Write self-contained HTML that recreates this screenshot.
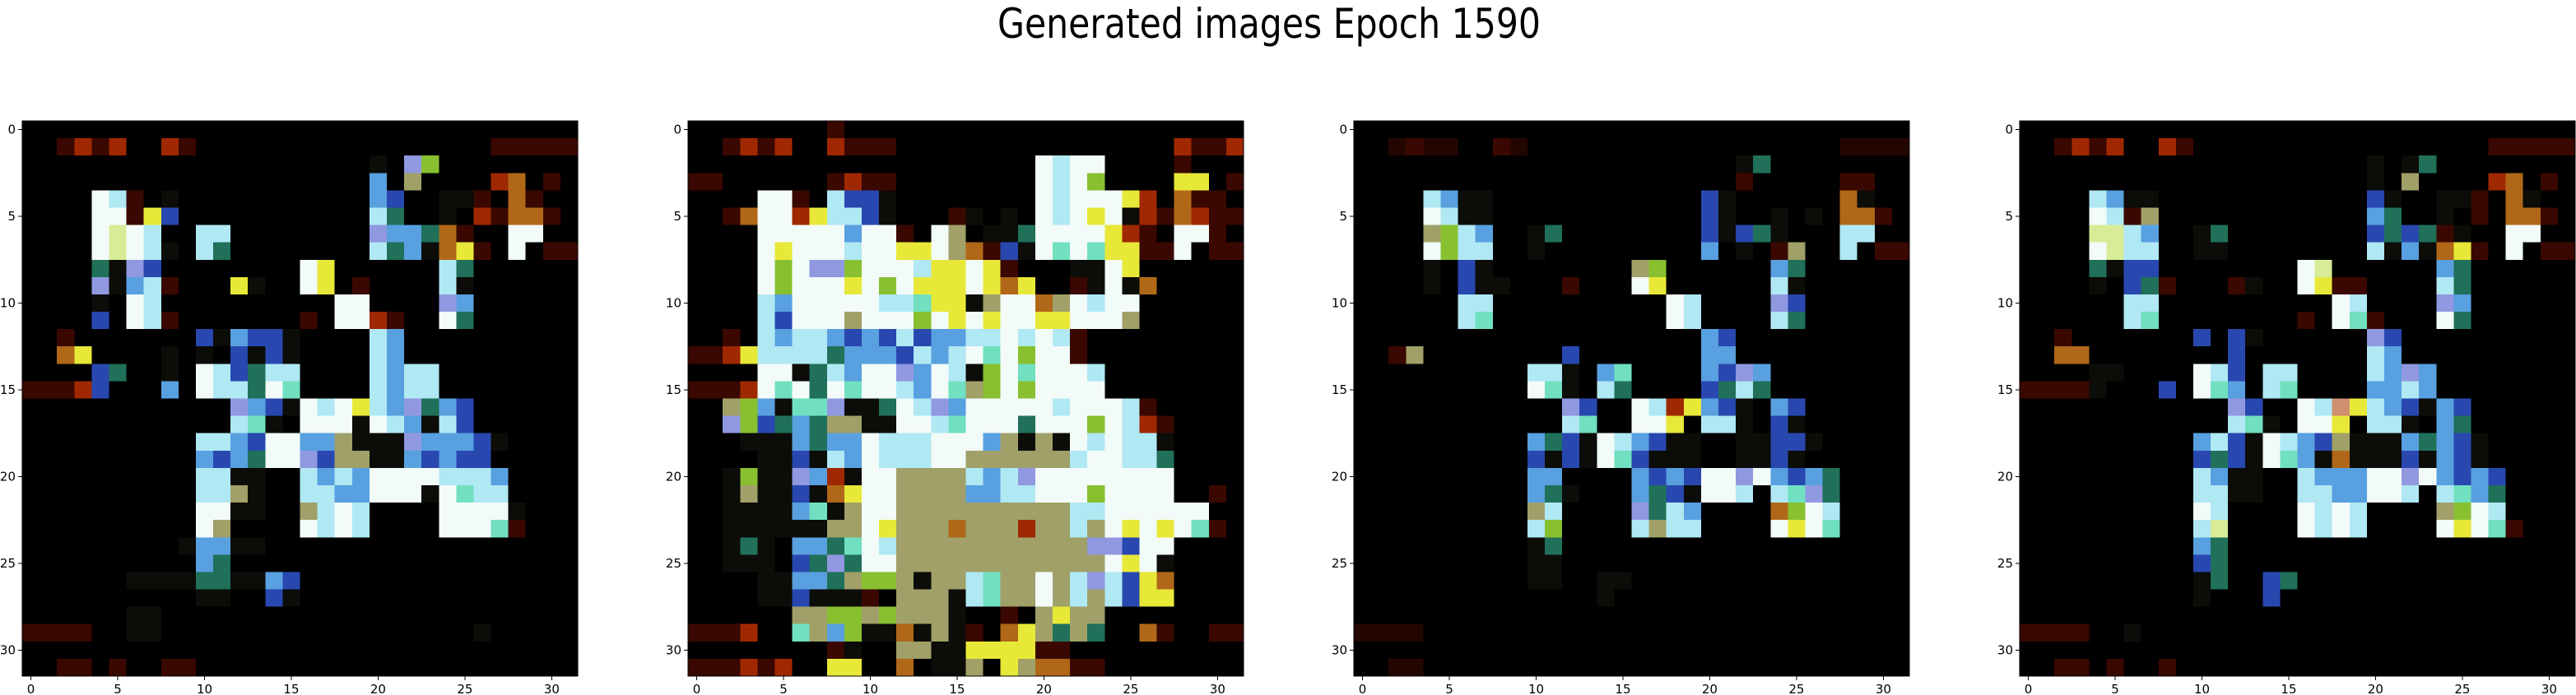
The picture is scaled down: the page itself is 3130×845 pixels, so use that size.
<!DOCTYPE html>
<html><head><meta charset="utf-8"><style>
html,body{margin:0;padding:0;background:#fff;}
svg{display:block;}
text{font-family:"DejaVu Sans","Liberation Sans",sans-serif;}
</style></head><body>
<svg id="fig" width="3130" height="845" viewBox="0 0 3130 845" xmlns="http://www.w3.org/2000/svg" shape-rendering="crispEdges">
<rect x="0" y="0" width="3130" height="845" fill="#fff"/>
<text x="1542" y="46" text-anchor="middle" font-size="50" textLength="660" lengthAdjust="spacingAndGlyphs" fill="#000">Generated images Epoch 1590</text>
</svg>
<script>
const tickValues = [0, 5, 10, 15, 20, 25, 30];
const tickLabels = ["0", "5", "10", "15", "20", "25", "30"];
const palette = {".":"#000000","q":"#240600","r":"#3a0800","R":"#a02800","o":"#b06818","y":"#e8e838","w":"#f2fbf8","c":"#b0e8f4","m":"#70e0c0","b":"#58a0e0","B":"#2848b0","g":"#20705a","G":"#88c030","l":"#a0a068","k":"#d8ec98","d":"#0c0c08","p":"#9098e0","s":"#d09070"};
const panel1Rows = [
"................................",
"..rRrR..Rr.................rrrrr",
"....................d.pG........",
"....................b.l....Ro.r.",
"....wcr.d...........bB..ddr.or..",
"....wwryB...........cg..d.Rroor.",
"....wkwc..cc........pbbgor..ww..",
"....wkwcd.cg........cgbdoyr.w.rr",
"....gdpB........wy......cg......",
"....pdbcr...yd..wy.r....cd......",
"....d.wc..........ww....pb......",
"....B.wcr.......r.wwRr..wg......",
"..r.......BdbBBd....cb..........",
"..oy....d.d.BdBd....cb..........",
"....Bg..d.wcBgcc....cbcc........",
"rrrRB...b.wccgwm....cbcc........",
"............pbBdwcwycbpgbB......",
"............cmd.wwwdwcbdcB......",
"..........ccbBwwbbldddpbbbBd....",
"..........bBbgwwpBllddbBbBB.....",
"..........ccdd..cbcbwwwwcccb....",
"..........ccld..ccbbwwwdwmcc....",
"..........wwdd..lcwc....wwwwd...",
"..........wl....wcwc....wwwmr...",
".........dbbdd..................",
"..........bg....................",
"......ddddggddbB................",
"..........dd..Bd................",
"......dd........................",
"rrrr..dd..................d.....",
"................................",
"..rr.r..rr......................"];
const panel2Rows = [
"........r.......................",
"..rRrR..Rrrr................RrrR",
"....................wcww....r...",
"rr......rRrr........wcwG....yy.r",
"....wwr.cBBd........wcwwwyR.orr.",
"..rowwRyccBd...rd.d.wcwywdRroRrr",
"....wwwwwbwwr.wl.ddgwwwwyRr.wwr.",
"....wywwwcwwyywlorBdwmwmyyrrw.rr",
"....wGwppGwwwcyywyr...ddwy......",
"....wGwwwywGwyyywyoy..rdwdo.....",
"....cbwwwwwccmyydlwwolwcww......",
"....cBwwwlwwwGwywywwyywwwl......",
"..r.cbccbBbBcBbbccwcwcr.........",
"rrRyccccgbbbBcbcwmwGwwr.........",
"....wwdgcbwwpbwcdGwmwwwc........",
"rrrRwmwgwmwwcbwmlGwGwwww........",
"..lGbdmmpddgwcpbwwwwwcwwwcr.....",
"..pGBgbglldd" + "wwcmwwwg" + "wwwGwcRr....",
"...dddbgbbwcccwwwbldldwcwccd....",
"....ddBdcbwcccwwllllllcwwccg....",
"..dGddpbRdwwllllcbcpwwwwwwww....",
"..dlddBdoywwllllbbccwwwGwwww..r.",
"..ddddbmdlwwllllllllllccwwwwww..",
"..ddddddllwylllolllRllclwywywmr.",
"..dgd.bbgmwclllllllllllppBww....",
"..ddd.Bgpgwwllllllllllllwywd....",
"....ddbbglGGldllcmllwlcpcByo....",
"....ddBdddr.llldcmllwlclcByy....",
"......llGGlGllld..r.lyll........",
"rrrR..mlbGddodldr.oylglg..or..rr",
"........rd..llddyyyyrr..........",
"rrrRrR..yy..o.ddl.yloorr........"];
const panel3Rows = [
"................................",
"..qrqq..rq..................qqqq",
"......................dg........",
"......................r.....rr..",
"....cbdd............Bd......od..",
"....wcdd............Bd..d.d.oor.",
"....lGcb..dg........BdBgd...cc..",
"....wGcc..d.........b.d.rl..c.rr",
"....d.Bd........lG......bg......",
"....d.Bdd...r...wy......cd......",
"......cc..........wc....pB......",
"......cm..........wc....cg......",
"....................bB..........",
"..rl........B.......bb..........",
"..........ccd.bm....bBpb........",
"..........wmd.cg....Bgcg........",
"............pB..wcRybBd.bB......",
"............cm..wwy.ccd.Bd......",
"..........bgBdwcbBdd..ddBBd.....",
"..........BdBdwmBddd..ddBd......",
"..........bb....bBbBwwpwbBbg....",
"..........bgd...bgBdwwc.cmpg....",
"..........lc....pgcb....oGwc....",
"..........cG....clcc....wywm....",
"..........dg....................",
"..........dd....................",
"..........dd..dd................",
"..............d.................",
"................................",
"qqqq............................",
"................................",
"..qq............................"];
const panel4Rows = [
"................................",
"..rRrR..Rr.................rrrrr",
"....................d.dg........",
"....................d.l....Ro.r.",
"....cbdd............Bd..ddr.od..",
"....wcrl............bg..d.r.oor.",
"....kkcb..dg........BgBgrd..ww..",
"....wkcc..dd........cdbdoyr.w.rr",
"....gdBB........wk......bg......",
"....d.Bgr...rd..wyrr....cg......",
"......cc..........wc....pb......",
"......cm........r.wmr...wg......",
"..r.......B.Bd......pB..........",
"..oo........B.......cb..........",
"....dd....wcB.cc....cbpb........",
"rrrrd...B.wmb.cm....bbcb........",
"............pB..wcsycbBdbB......",
"............cmd.wwy.ccd.bg......",
"..........bcBdwcbBldddbgbBd.....",
"..........BgBdwmbdodddBdbBd.....",
"..........cbdd..cbbbwwpwbBbB....",
"..........ccdd..ccbbwwc.cmbg....",
"..........wc....wcwc....lGwc....",
"..........ck....wcwc....wywmr...",
"..........bg....................",
"..........Bg....................",
"..........dg..Bg................",
"..........d...B.................",
"................................",
"rrrr..d.........................",
"................................",
"..rr.r..r......................."];
const panels = [panel1Rows, panel2Rows, panel3Rows, panel4Rows];
const panelLefts = [27, 836, 1645, 2454];
const AX_TOP = 147, AX_SIZE = 675, N = 32;
const NS = "http://www.w3.org/2000/svg";
const svg = document.getElementById("fig");
function mk(tag, attrs){const e=document.createElementNS(NS,tag);for(const k in attrs)e.setAttribute(k,attrs[k]);return e;}
function scale(v, left){return left + (v + 0.5) * AX_SIZE / N;}
panels.forEach((rows, pi) => {
  const left = panelLefts[pi];
  const g = mk("g", {});
  
  
  svg.appendChild(g);
  const cw = AX_SIZE / N;
  for (let r = 0; r < N; r++) {
    const row = (rows[r] || "").padEnd(N, ".").slice(0, N);
    for (let c = 0; c < N; c++) {
      const x0 = left + c * cw, y0 = AX_TOP + r * cw;
      const rect = mk("rect", {x: x0.toFixed(2), y: y0.toFixed(2), width: (cw + 0.6).toFixed(2), height: (cw + 0.6).toFixed(2), fill: palette[row[c]] || "#000"});
      
      
      g.appendChild(rect);
    }
  }
  const frame = mk("rect", {x: left, y: AX_TOP, width: AX_SIZE, height: AX_SIZE, fill: "none", stroke: "#000", "stroke-width": 1.2});
  
  
  g.appendChild(frame);
  tickValues.forEach((v, i) => {
    const xp = scale(v, left);
    const yp = scale(v, AX_TOP);
    const xt = mk("line", {x1: xp, y1: AX_TOP + AX_SIZE, x2: xp, y2: AX_TOP + AX_SIZE + 5, stroke: "#000", "stroke-width": 1});
    
    
    g.appendChild(xt);
    const xl = mk("text", {x: xp, y: AX_TOP + AX_SIZE + 21, "text-anchor": "middle", "font-size": 15, fill: "#000"});
    xl.textContent = tickLabels[i];
    
    
    g.appendChild(xl);
    const yt = mk("line", {x1: left - 5, y1: yp, x2: left, y2: yp, stroke: "#000", "stroke-width": 1});
    
    
    g.appendChild(yt);
    const yl = mk("text", {x: left - 8, y: yp + 5, "text-anchor": "end", "font-size": 15, fill: "#000"});
    yl.textContent = tickLabels[i];
    
    
    g.appendChild(yl);
  });
});
</script>
</body></html>
